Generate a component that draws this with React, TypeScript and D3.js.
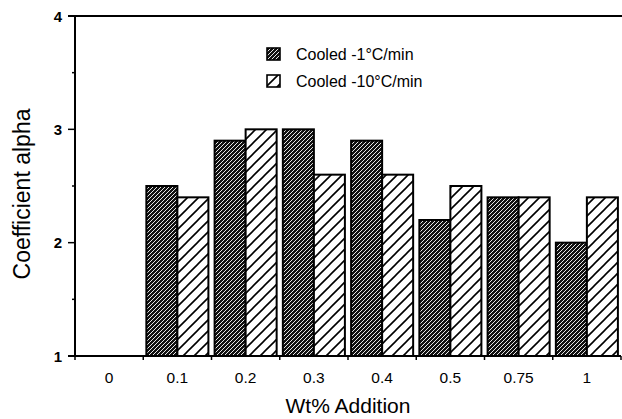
import React from "react";
import * as d3 from "d3";

const categories = ["0", "0.1", "0.2", "0.3", "0.4", "0.5", "0.75", "1"];
const series = ["Cooled -1°C/min", "Cooled -10°C/min"];
const slowValues: (number | null)[] = [null, 2.5, 2.9, 3.0, 2.9, 2.2, 2.4, 2.0];
const fastValues: (number | null)[] = [null, 2.4, 3.0, 2.6, 2.6, 2.5, 2.4, 2.4];
const yMajorTicks = [1, 2, 3, 4];
const yMinorTicks = [1.5, 2.5, 3.5];

const W = 622;
const H = 419;
const left = 75;
const right = 621;
const top = 16;
const bottom = 356;
const font = "'Liberation Sans', Arial, Helvetica, sans-serif";

export default function App() {
  const x = d3.scaleBand<string>().domain(categories).range([left, right]).paddingInner(0).paddingOuter(0);
  const x1 = d3.scaleBand<string>().domain(series).range([0, x.bandwidth()]).paddingInner(0).paddingOuter(0.1);
  const y = d3.scaleLinear().domain([1, 4]).range([bottom, top]);
  const valuesBySeries = [slowValues, fastValues];
  const fills = ["url(#darkHatch)", "url(#lightHatch)"];

  return (
    <svg width={W} height={H} style={{ position: "absolute", left: 0, top: 0, background: "#fff" }}>
      <defs>
        <pattern id="darkHatch" patternUnits="userSpaceOnUse" width={4} height={4}>
          <rect width={4} height={4} fill="#111" />
          <path d="M0,4 L4,0 M-1,1 L1,-1 M3,5 L5,3" stroke="#fff" strokeWidth={0.9} />
        </pattern>
        <pattern id="lightHatch" patternUnits="userSpaceOnUse" width={11} height={11}>
          <rect width={11} height={11} fill="#fff" />
          <path d="M0,11 L11,0 M-2,2 L2,-2 M9,13 L13,9" stroke="#000" strokeWidth={1.6} />
        </pattern>
      </defs>

      {/* bars */}
      {categories.map((c, i) =>
        series.map((s, k) => {
          const v = valuesBySeries[k][i];
          if (v == null) return null;
          const bx = (x(c) ?? 0) + (x1(s) ?? 0);
          return (
            <rect
              key={c + s}
              x={bx}
              y={y(v)}
              width={x1.bandwidth()}
              height={y(1) - y(v)}
              fill={fills[k]}
              stroke="#000"
              strokeWidth={2}
            />
          );
        })
      )}

      {/* axes frame */}
      <line x1={68} x2={W} y1={top} y2={top} stroke="#000" strokeWidth={2} />
      <line x1={left} x2={left} y1={top} y2={bottom} stroke="#000" strokeWidth={2} />
      <line x1={68} x2={right} y1={bottom} y2={bottom} stroke="#000" strokeWidth={2} />

      {/* y ticks */}
      {yMajorTicks.map((t) => (
        <g key={"yt" + t}>
          <line x1={68} x2={left} y1={y(t)} y2={y(t)} stroke="#000" strokeWidth={1.5} />
          <text x={62} y={y(t) + 5.5} textAnchor="end" fontFamily={font} fontSize={15} fontWeight="bold">
            {t}
          </text>
        </g>
      ))}
      {yMinorTicks.map((t) => (
        <line key={"ym" + t} x1={72} x2={left} y1={y(t)} y2={y(t)} stroke="#000" strokeWidth={1.5} />
      ))}

      {/* x ticks */}
      {categories.map((c) => (
        <line key={"xt" + c} x1={x(c)!} x2={x(c)!} y1={bottom} y2={bottom + 4} stroke="#000" strokeWidth={1.5} />
      ))}
      <line x1={right} x2={right} y1={bottom} y2={bottom + 4} stroke="#000" strokeWidth={1.5} />
      {categories.map((c) => (
        <text
          key={"xl" + c}
          x={(x(c) ?? 0) + x.bandwidth() / 2}
          y={383}
          textAnchor="middle"
          fontFamily={font}
          fontSize={15.5}
        >
          {c}
        </text>
      ))}

      {/* axis titles */}
      <text x={348} y={413} textAnchor="middle" fontFamily={font} fontSize={21}>
        Wt% Addition
      </text>
      <text
        transform={`translate(30,194) rotate(-90)`}
        textAnchor="middle"
        fontFamily={font}
        fontSize={23}
      >
        Coefficient alpha
      </text>

      {/* legend */}
      {series.map((s, k) => (
        <g key={"lg" + s} transform={`translate(267,${48 + k * 27})`}>
          <rect width={13} height={12} fill={fills[k]} stroke="#000" strokeWidth={1.6} />
          <text x={29} y={12} fontFamily={font} fontSize={16}>
            {s}
          </text>
        </g>
      ))}
    </svg>
  );
}
